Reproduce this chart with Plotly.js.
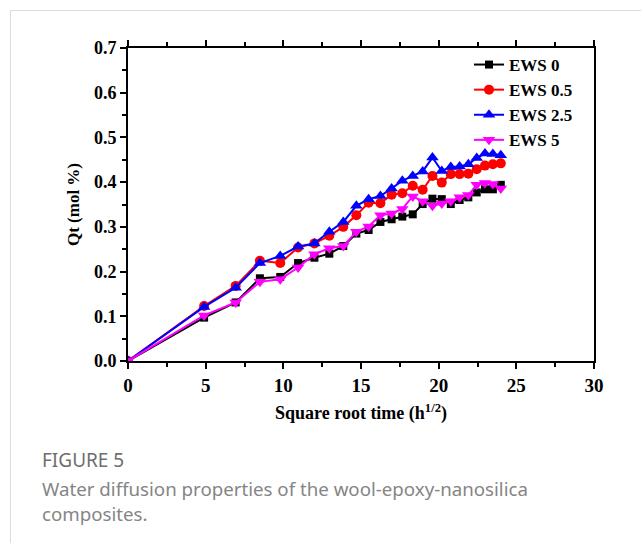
<!DOCTYPE html>
<html>
<head>
<meta charset="utf-8">
<script src="https://cdn.plot.ly/plotly-3.0.1.min.js"></script>
<style>
  html, body { margin: 0; padding: 0; background: #fff; }
  #wrap { position: relative; width: 641px; height: 543px; }
  #chart { width: 641px; height: 543px; }
  #frame { position: absolute; left: 10px; top: 10px; width: 631px; height: 533px;
           border-top: 1px solid #dcdcdc; border-left: 1px solid #dcdcdc; pointer-events: none; box-sizing: border-box; }
</style>
</head>
<body>
<div id="wrap">
  <div id="chart"></div>
  <div id="frame"></div>
</div>
<script>
// square root time (h^1/2)
const sqrtTime = [0, 4.90, 6.93, 8.49, 9.80, 10.95, 12.00, 12.96, 13.86, 14.70, 15.49, 16.25, 16.97,
                  17.66, 18.33, 18.97, 19.60, 20.20, 20.78, 21.35, 21.91, 22.45, 22.98, 23.49, 24.00];
const seriesNames = ["EWS 0", "EWS 0.5", "EWS 2.5", "EWS 5"];
const ews0  = [0, 0.097, 0.131, 0.185, 0.188, 0.219, 0.231, 0.240, 0.257, 0.285, 0.293, 0.311, 0.317,
               0.323, 0.328, 0.351, 0.363, 0.362, 0.351, 0.360, 0.366, 0.377, 0.384, 0.384, 0.394];
const ews05 = [0, 0.123, 0.168, 0.224, 0.219, 0.254, 0.263, 0.280, 0.300, 0.326, 0.354, 0.353, 0.372,
               0.375, 0.392, 0.383, 0.414, 0.399, 0.418, 0.418, 0.419, 0.429, 0.437, 0.440, 0.442];
const ews25 = [0, 0.121, 0.164, 0.219, 0.235, 0.256, 0.263, 0.289, 0.311, 0.347, 0.362, 0.369, 0.386,
               0.403, 0.414, 0.424, 0.455, 0.425, 0.434, 0.435, 0.440, 0.454, 0.464, 0.463, 0.460];
const ews5  = [0, 0.102, 0.131, 0.177, 0.183, 0.209, 0.239, 0.252, 0.257, 0.289, 0.301, 0.326, 0.330,
               0.340, 0.368, 0.357, 0.347, 0.352, 0.357, 0.366, 0.371, 0.394, 0.398, 0.396, 0.386];
const xTickVals = [0, 5, 10, 15, 20, 25, 30];
const yTickVals = [0, 0.1, 0.2, 0.3, 0.4, 0.5, 0.6, 0.7];
const captionHead = "FIGURE 5";
const captionLine1 = "Water diffusion properties of the wool-epoxy-nanosilica";
const captionLine2 = "composites.";

const serif = "Liberation Serif, Times New Roman, serif";
const sans = "Noto Sans, Open Sans, sans-serif";
const styles = [
  {color: "#000000", symbol: "square", size: 8},
  {color: "#ff0000", symbol: "circle", size: 10},
  {color: "#0000ff", symbol: "triangle-up", size: 11},
  {color: "#ff00ff", symbol: "triangle-down", size: 11}
];
const ys = [ews0, ews05, ews25, ews5];
const traces = ys.map((y, i) => ({
  x: sqrtTime, y: y, type: "scatter", mode: "lines+markers",
  name: "<b>" + seriesNames[i] + "</b>",
  line: {color: styles[i].color, width: 2},
  marker: {color: styles[i].color, symbol: styles[i].symbol, size: styles[i].size}
}));

const L = 128, R = 594, T = 48, B = 361;
const px = v => (v - L) / (R - L);
const py = v => (B - v) / (B - T);

const layout = {
  width: 641, height: 543,
  margin: {l: L, r: 641 - R, t: T, b: 543 - B},
  paper_bgcolor: "#fff", plot_bgcolor: "#fff",
  showlegend: true,
  legend: {x: px(469), y: py(47), xanchor: "left", yanchor: "top",
           font: {family: serif, size: 17, color: "#000"}, bgcolor: "rgba(0,0,0,0)",
           tracegroupgap: 0},
  xaxis: {
    range: [0, 30], tickvals: xTickVals, ticktext: xTickVals.map(String),
    showgrid: false, zeroline: false, showline: true, linecolor: "#000", linewidth: 2,
    mirror: "ticks", ticks: "outside", ticklen: 6, tickwidth: 2, tickcolor: "#000",
    minor: {dtick: 2.5, ticks: "outside", ticklen: 4, tickwidth: 2, tickcolor: "#000", showgrid: false},
    tickfont: {family: serif, size: 19, color: "#000", weight: "bold"},
    title: {text: "<b>Square root time (h<sup>1/2</sup>)</b>", font: {family: serif, size: 18, color: "#000"}, standoff: 12}
  },
  yaxis: {
    range: [0, 0.7], tickvals: yTickVals, ticktext: yTickVals.map(v => v.toFixed(1)),
    showgrid: false, zeroline: false, showline: true, linecolor: "#000", linewidth: 2,
    mirror: true, ticks: "outside", ticklen: 6, tickwidth: 2, tickcolor: "#000",
    minor: {dtick: 0.05, ticks: "outside", ticklen: 4, tickwidth: 2, tickcolor: "#000", showgrid: false},
    tickfont: {family: serif, size: 18, color: "#000", weight: "bold"},
    title: {text: "<b>Qt (mol %)</b>", font: {family: serif, size: 17, color: "#000"}, standoff: 10}
  },
  annotations: [
    {text: captionHead, xref: "paper", yref: "paper", x: px(40), y: py(460), xanchor: "left", yanchor: "middle",
     showarrow: false, font: {family: sans, size: 19, color: "#6e6e6e"}},
    {text: captionLine1, xref: "paper", yref: "paper", x: px(40), y: py(488), xanchor: "left", yanchor: "middle",
     showarrow: false, font: {family: sans, size: 18.7, color: "#858585"}},
    {text: captionLine2, xref: "paper", yref: "paper", x: px(40), y: py(513), xanchor: "left", yanchor: "middle",
     showarrow: false, font: {family: sans, size: 18.7, color: "#858585"}}
  ]
};

Plotly.newPlot("chart", traces, layout, {displayModeBar: false, staticPlot: true});
</script>
</body>
</html>
